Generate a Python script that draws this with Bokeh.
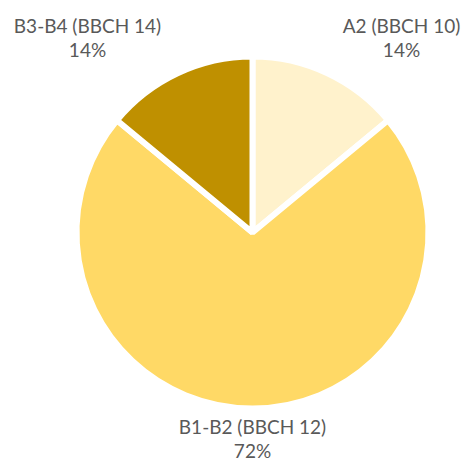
import math
from bokeh.plotting import figure
from bokeh.models import Range1d
from bokeh.core.properties import value
from bokeh.embed import file_html
from bokeh.resources import INLINE

# ---- data ----
categories = ["A2 (BBCH 10)", "B1-B2 (BBCH 12)", "B3-B4 (BBCH 14)"]
shares = [14, 72, 14]
colors = ["#FFF2CC", "#FFD966", "#BF9000"]

W, H = 465, 461
p = figure(width=W, height=H, output_backend="svg", toolbar_location=None,
           x_range=Range1d(0, W), y_range=Range1d(0, H), min_border=0)
p.axis.visible = False
p.grid.visible = False
p.outline_line_color = None
p.background_fill_color = "white"
p.border_fill_color = "white"

cx, cy, r = 252, H - 232, 176
total = sum(shares)
start = math.pi / 2
starts, ends = [], []
for s in shares:
    sweep = 2 * math.pi * s / total
    ends.append(start)
    starts.append(start - sweep)
    start -= sweep

p.wedge(x=cx, y=cy, radius=r, start_angle=starts, end_angle=ends,
        fill_color=colors, line_color="white", line_width=6)

# label anchor positions (image coords) for each category
label_pos = [(401, 25), (252, 426), (87, 25)]
font = value("Lato")
for cat, s, (lx, ly) in zip(categories, shares, label_pos):
    p.text(x=[lx], y=[H - ly], text=[cat], text_align="center", text_baseline="middle",
           text_font=font, text_font_size="19px", text_color="#595959")
    p.text(x=[lx], y=[H - ly - 24], text=[f"{s}%"], text_align="center", text_baseline="middle",
           text_font=font, text_font_size="19px", text_color="#595959")

open("out.html", "w").write(file_html(p, INLINE))
